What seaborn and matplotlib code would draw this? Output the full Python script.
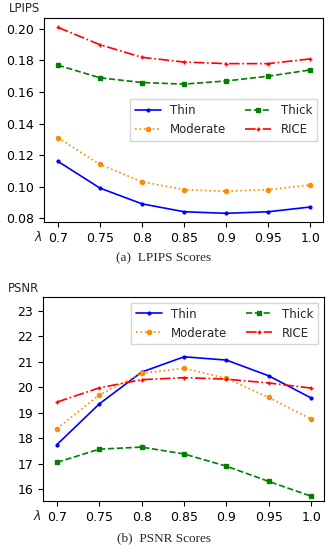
import numpy as np
import pandas as pd
import matplotlib
matplotlib.use("Agg")
import matplotlib.pyplot as plt
import seaborn as sns

# data
lambdas = ["0.7", "0.75", "0.8", "0.85", "0.9", "0.95", "1.0"]
series = ["Thin", "Moderate", "Thick", "RICE"]

lpips_thin = [0.116, 0.099, 0.089, 0.084, 0.083, 0.084, 0.087]
lpips_moderate = [0.131, 0.114, 0.103, 0.098, 0.097, 0.098, 0.101]
lpips_thick = [0.177, 0.169, 0.166, 0.165, 0.167, 0.170, 0.174]
lpips_rice = [0.201, 0.190, 0.182, 0.179, 0.178, 0.178, 0.181]

psnr_thin = [17.75, 19.35, 20.6, 21.2, 21.07, 20.45, 19.58]
psnr_moderate = [18.38, 19.7, 20.55, 20.75, 20.35, 19.6, 18.75]
psnr_thick = [17.05, 17.57, 17.65, 17.38, 16.9, 16.3, 15.72]
psnr_rice = [19.42, 19.98, 20.3, 20.38, 20.32, 20.17, 19.97]

sns.set_style("ticks")
plt.rcParams['font.family'] = ['DejaVu Sans']
plt.rcParams['font.size'] = 8.5

styles = {
    "Thin": dict(color="blue", linestyle="-", marker=".", markersize=4),
    "Moderate": dict(color="darkorange", linestyle=":", marker="o", markersize=3),
    "Thick": dict(color="green", linestyle="--", marker="s", markersize=3),
    "RICE": dict(color="red", linestyle="-.", marker="+", markersize=3.5),
}

def make_df(vals):
    rows = []
    for name, v in zip(series, vals):
        for lam, y in zip(lambdas, v):
            rows.append({"lambda": lam, "value": y, "method": name})
    return pd.DataFrame(rows)

df_lpips = make_df([lpips_thin, lpips_moderate, lpips_thick, lpips_rice])
df_psnr = make_df([psnr_thin, psnr_moderate, psnr_thick, psnr_rice])

fig = plt.figure(figsize=(3.36, 5.5), dpi=100)
ax1 = fig.add_axes([0.131, 0.5964, 0.830, 0.371])
ax2 = fig.add_axes([0.128, 0.089, 0.836, 0.371])

def draw(ax, df, ylabel, ylim, yticks, yfmt, legend_loc, caption, cap_y):
    for name in series:
        sub = df[df.method == name]
        st = styles[name]
        sns.lineplot(data=sub, x="lambda", y="value", ax=ax, label=name,
                     linewidth=1.2, markeredgecolor=st["color"], markeredgewidth=1, **st)
    ax.set_xlim(-0.33, 6.3)
    ax.set_ylim(*ylim)
    ax.set_yticks(yticks)
    ax.set_yticklabels([yfmt.format(t) for t in yticks])
    ax.set_xlabel("")
    ax.set_ylabel("")
    ax.tick_params(labelsize=9, length=3.5, width=0.8, colors="black")
    for s in ax.spines.values():
        s.set_linewidth(0.8)
        s.set_color("black")
    ax.text(-0.015, 1.012, ylabel, transform=ax.transAxes, ha="right", va="bottom", fontsize=8.5)
    ax.text(-0.005, -0.075, r"$\lambda$", transform=ax.transAxes, ha="right", va="center", fontsize=9)
    ax.legend(loc=legend_loc, ncol=2, fontsize=8.5, framealpha=0.8, edgecolor="#cccccc",
              fancybox=False, borderpad=0.4, handlelength=2.2, columnspacing=1.6)
    fig.text(0.488, cap_y, caption, ha="center", va="center",
             fontsize=9.5, family="Liberation Serif")

draw(ax1, df_lpips, "LPIPS", (0.0775, 0.207), [0.08, 0.10, 0.12, 0.14, 0.16, 0.18, 0.20],
     "{:.2f}", "center right", "(a)  LPIPS Scores", 0.531)
draw(ax2, df_psnr, "PSNR", (15.53, 23.55), [16, 17, 18, 19, 20, 21, 22, 23],
     "{:.0f}", "upper right", "(b)  PSNR Scores", 0.022)

fig.savefig("out.png", dpi=100)
